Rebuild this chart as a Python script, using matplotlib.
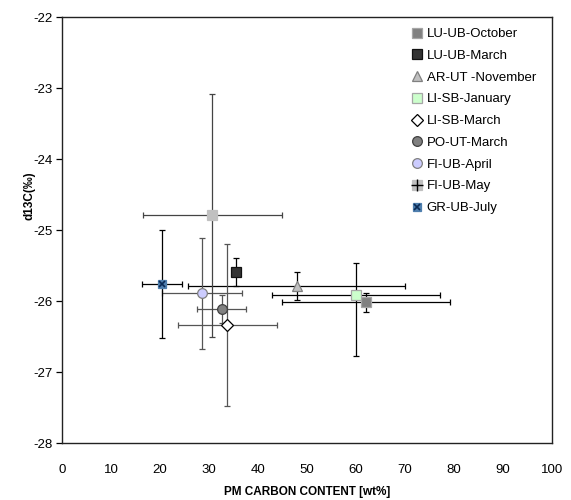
import matplotlib
matplotlib.use("Agg")
import matplotlib.pyplot as plt
from matplotlib.lines import Line2D

plt.rcParams['font.family'] = ['Liberation Sans', 'DejaVu Sans']
plt.rcParams['axes.unicode_minus'] = False

# data
names = ["LU-UB-October", "LU-UB-March", "AR-UT -November", "LI-SB-January",
         "LI-SB-March", "PO-UT-March", "FI-UB-April", "FI-UB-May", "GR-UB-July"]
carbon = [62.0, 35.6, 47.9, 60.0, 33.7, 32.6, 28.6, 30.7, 20.4]
d13c = [-26.02, -25.59, -25.79, -25.92, -26.34, -26.11, -25.89, -24.79, -25.76]
carbon_err = [17.2, 0.3, 22.2, 17.1, 10.1, 5.0, 8.2, 14.2, 4.1]
d13c_err_low = [0.13, 0.20, 0.20, 0.86, 1.14, 0.20, 0.78, 1.71, 0.76]
d13c_err_high = [0.13, 0.20, 0.20, 0.46, 1.14, 0.20, 0.78, 1.71, 0.76]

# marker styles: (marker, face, edge, errorbar colour)
styles = [
    ("s", "#808080", "#a6a6a6", "black"),
    ("s", "#333333", "#111111", "black"),
    ("^", "#c0c0c0", "#808080", "black"),
    ("s", "#ccffcc", "#a6a6a6", "black"),
    ("D", "white", "black", "#555555"),
    ("o", "#808080", "#404040", "#555555"),
    ("o", "#ccccff", "#808080", "#555555"),
    ("s", "#c0c0c0", "#c0c0c0", "#444444"),
    ("s", "#4f7fae", "#4f7fae", "black"),
]
sizes = [7, 7, 7.5, 7, 6, 7, 7, 7, 6]

fig = plt.figure(figsize=(5.71, 5.0), dpi=100)
ax = fig.add_axes([62 / 571, 1 - 443 / 500, 490 / 571, 426 / 500])

handles = []
for i in range(len(names)):
    mk, fc, ec, errc = styles[i]
    ax.errorbar(carbon[i], d13c[i], xerr=carbon_err[i],
                yerr=[[d13c_err_low[i]], [d13c_err_high[i]]],
                fmt="none", ecolor=errc, elinewidth=0.9, capsize=2.2,
                capthick=0.9, zorder=2)
    ax.plot(carbon[i], d13c[i], marker=mk, markersize=sizes[i],
            markerfacecolor=fc, markeredgecolor=ec, markeredgewidth=0.9,
            linestyle="none", zorder=3)
    h = Line2D([], [], marker=mk, markersize=sizes[i], markerfacecolor=fc,
               markeredgecolor=ec, markeredgewidth=0.9, linestyle="none")
    if names[i] == "FI-UB-May":
        h = (h, Line2D([], [], marker="+", markersize=9, color="black",
                       markeredgewidth=1.0, linestyle="none"))
    if names[i] == "GR-UB-July":
        ax.plot(carbon[i], d13c[i], marker="x", markersize=5,
                color="#0b2a55", markeredgewidth=1.2, linestyle="none", zorder=4)
        h = (h, Line2D([], [], marker="x", markersize=5, color="#0b2a55",
                       markeredgewidth=1.2, linestyle="none"))
    handles.append(h)

ax.set_xlim(0, 100)
ax.set_ylim(-28, -22)
ax.set_xticks(range(0, 101, 10))
ax.set_yticks(range(-28, -21))
ax.tick_params(axis="x", length=0, pad=15, labelsize=9.5)
ax.tick_params(axis="y", length=4, width=0.9, direction="out", labelsize=9.5, pad=3)
for sp in ax.spines.values():
    sp.set_linewidth(1.0)
    sp.set_color("#222222")

ax.set_xlabel("PM CARBON CONTENT [wt%]", fontsize=8.5, fontweight="bold", labelpad=7)
ax.set_ylabel("d13C(‰)", fontsize=8.5, fontweight="bold")
# the label sits between the -24 and -25 tick labels, as in the reference
ax.yaxis.set_label_coords((36 - 62) / 490, (443 - 196) / 426)

leg = ax.legend(handles, names, loc="upper left",
                bbox_to_anchor=((412 - 62) / 490, 1 - (28 - 17) / 426),
                frameon=False, fontsize=9.5, handlelength=0.8, handletextpad=0.3,
                labelspacing=0.72, borderaxespad=0, borderpad=0)

fig.savefig("out.png", dpi=100)
